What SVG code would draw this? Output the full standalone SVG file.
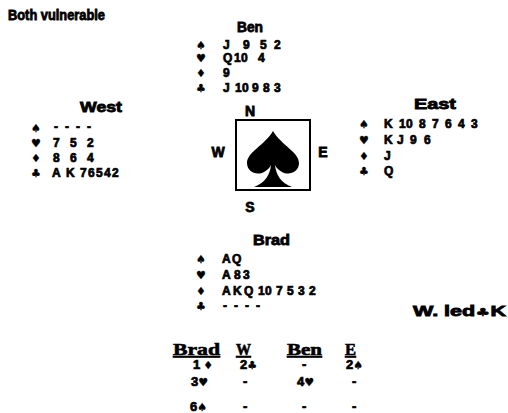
<svg xmlns="http://www.w3.org/2000/svg" width="508" height="413" viewBox="0 0 508 413">
<style>
text{font-family:"Liberation Sans",Arial,sans-serif;font-weight:bold;fill:#000;stroke:#000;stroke-width:0.5}
.t{font-size:14px;stroke-width:0.8}
.c{font-size:12px;stroke-width:0.7}
.s{font-size:11px;font-family:"DejaVu Sans",sans-serif;stroke-width:0.3}
.h{font-family:"Liberation Serif","Times New Roman",serif;font-size:16px;text-decoration:underline;stroke-width:0.6}
.b{font-size:13px;stroke-width:0.7}
</style>
<rect width="508" height="413" fill="#fff"/>
<text class="t" x="8" y="20" textLength="97" lengthAdjust="spacingAndGlyphs">Both vulnerable</text>

<g id="north">
<text class="t" x="237" y="32" textLength="26" lengthAdjust="spacingAndGlyphs">Ben</text>
<text class="s" x="196" y="49">♠</text>
<text class="c" x="223 243 260 274" y="49">J952</text>
<text class="s" x="196" y="62">♥</text>
<text class="c" x="223 234 241 258" y="62">Q104</text>
<text class="s" x="196" y="77">♦</text>
<text class="c" x="223" y="77">9</text>
<text class="s" x="196" y="92">♣</text>
<text class="c" x="223 235 242 252 263 274" y="92">J10983</text>
</g>

<g id="west">
<text class="t" x="80" y="112" textLength="42" lengthAdjust="spacingAndGlyphs">West</text>
<text class="s" x="31" y="132">♠</text>
<text class="c" x="54 65 76 87" y="131">----</text>
<text class="s" x="31" y="147">♥</text>
<text class="c" x="53 70 87" y="147">752</text>
<text class="s" x="31" y="162">♦</text>
<text class="c" x="53 70 87" y="162">864</text>
<text class="s" x="31" y="177">♣</text>
<text class="c" x="52 66 80 88 96 104 112" y="177">AK76542</text>
</g>

<g id="east">
<text class="t" x="414" y="109" textLength="42" lengthAdjust="spacingAndGlyphs">East</text>
<text class="s" x="359" y="128">♠</text>
<text class="c" x="384 399 406 419 432 445 458 471" y="128">K1087643</text>
<text class="s" x="359" y="144">♥</text>
<text class="c" x="384 397 410 424" y="144">KJ96</text>
<text class="s" x="359" y="160">♦</text>
<text class="c" x="384" y="160">J</text>
<text class="s" x="359" y="175">♣</text>
<text class="c" x="384" y="175">Q</text>
</g>

<g id="compass">
<rect x="236" y="120" width="74" height="70" fill="none" stroke="#000" stroke-width="2"/>
<path d="M273,131 C265,145 247,152 247,163 C247,172 257,176 264,172 C268,170 270,167 271,165 C270,175 265,183 254,187 L292,187 C281,183 276,175 275,165 C276,167 278,170 282,172 C289,176 299,172 299,163 C299,152 281,145 273,131 Z" fill="#000"/>
<text class="t" x="250" y="116" text-anchor="middle">N</text>
<text class="t" x="218" y="157" text-anchor="middle" font-size="16">W</text>
<text class="t" x="323" y="157" text-anchor="middle">E</text>
<text class="t" x="250" y="212" text-anchor="middle">S</text>
</g>

<g id="south">
<text class="t" x="253" y="245" textLength="37" lengthAdjust="spacingAndGlyphs">Brad</text>
<text class="s" x="196" y="263">♠</text>
<text class="c" x="222 232" y="263">AQ</text>
<text class="s" x="196" y="279">♥</text>
<text class="c" x="222 234 243" y="279">A83</text>
<text class="s" x="196" y="295">♦</text>
<text class="c" x="222 233 244 258 265 276 287 298 309" y="295">AKQ107532</text>
<text class="s" x="196" y="310">♣</text>
<text class="c" x="223 234 245 256" y="310">----</text>
</g>

<g id="lead">
<text class="t" x="413" y="316" textLength="93" lengthAdjust="spacingAndGlyphs">W. led<tspan class="s" font-size="13">♣</tspan>K</text>
</g>

<g id="bidding">
<text class="h" x="173" y="355" textLength="47" lengthAdjust="spacingAndGlyphs">Brad</text>
<text class="h" x="236" y="355" textLength="15" lengthAdjust="spacingAndGlyphs">W</text>
<text class="h" x="287" y="355" textLength="35" lengthAdjust="spacingAndGlyphs">Ben</text>
<text class="h" x="345" y="355" textLength="11" lengthAdjust="spacingAndGlyphs">E</text>
<text class="b" x="193" y="369">1<tspan class="s" font-size="13" dx="3">♦</tspan></text>
<text class="b" x="240" y="369">2<tspan class="s" font-size="13">♣</tspan></text>
<text class="b" x="302" y="369">-</text>
<text class="b" x="346" y="369">2<tspan class="s" font-size="13">♠</tspan></text>
<text class="b" x="191" y="386">3<tspan class="s" font-size="13">♥</tspan></text>
<text class="b" x="243" y="386">-</text>
<text class="b" x="297" y="386">4<tspan class="s" font-size="13">♥</tspan></text>
<text class="b" x="352" y="386">-</text>
<text class="b" x="190" y="411">6<tspan class="s" font-size="13">♠</tspan></text>
<text class="b" x="243" y="411">-</text>
<text class="b" x="302" y="411">-</text>
<text class="b" x="352" y="411">-</text>
</g>
</svg>
